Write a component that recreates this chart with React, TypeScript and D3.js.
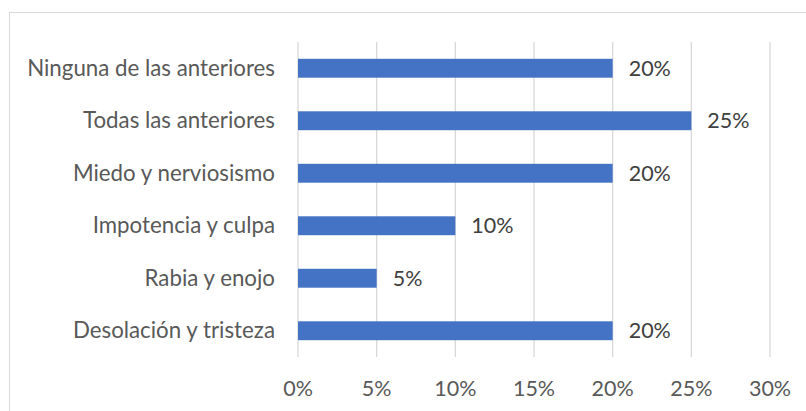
import React from "react";
import * as d3 from "d3";

const categories = [
  "Ninguna de las anteriores",
  "Todas las anteriores",
  "Miedo y nerviosismo",
  "Impotencia y culpa",
  "Rabia y enojo",
  "Desolación y tristeza",
];
const values = [20, 25, 20, 10, 5, 20];
const ticks = [0, 5, 10, 15, 20, 25, 30];

export default function App() {
  const W = 806, H = 411;
  const x = d3.scaleLinear().domain([0, 30]).range([298, 770]);
  const y = d3.scaleBand<string>().domain(categories).range([42, 357]).paddingInner(0.64).paddingOuter(0.32);
  const font = "Lato, Calibri, sans-serif";
  const fs = 21.5;
  return (
    <svg width={W} height={H} style={{ position: "absolute", left: 0, top: 0 }}>
      <rect x={0} y={0} width={W} height={H} fill="#fff" />
      <rect x={9.5} y={12.5} width={W} height={H} fill="none" stroke="#d9d9d9" strokeWidth={1} />
      {ticks.map((t) => (
        <line key={t} x1={x(t)} x2={x(t)} y1={42} y2={357} stroke="#d9d9d9" strokeWidth={1.3} />
      ))}
      {categories.map((c, i) => (
        <g key={c}>
          <rect x={x(0)} y={y(c)!} width={x(values[i]) - x(0)} height={y.bandwidth()} fill="#4472C4" />
          <text x={x(values[i]) + 16} y={y(c)! + y.bandwidth() / 2} dy="0.35em" fontFamily={font} fontSize={fs} fill="#404040">
            {values[i]}%
          </text>
          <text x={275} y={y(c)! + y.bandwidth() / 2} dy="0.33em" textAnchor="end" fontFamily={font} fontSize={22.3} fill="#595959">
            {c}
          </text>
        </g>
      ))}
      {ticks.map((t) => (
        <text key={"l" + t} x={x(t)} y={388} dy="0.35em" textAnchor="middle" fontFamily={font} fontSize={fs} fill="#595959">
          {t}%
        </text>
      ))}
    </svg>
  );
}
